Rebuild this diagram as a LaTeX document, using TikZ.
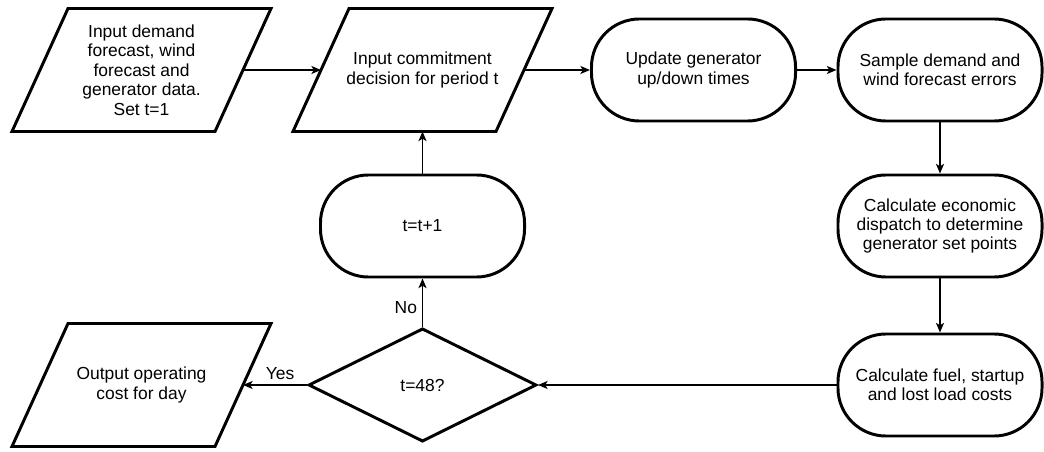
\documentclass[tikz,border=0pt]{standalone}
\usepackage{fontspec}
\setmainfont{Liberation Sans}
\usepackage{tikz}
\usetikzlibrary{
  shapes.geometric, arrows.meta, positioning
}
\tikzset{
  flowio/.style={
    rectangle, align=center, outer sep=1.05pt,
    font=\fontsize{12.4}{13.8}\selectfont,
    minimum width=5cm, minimum height=3cm,
    append after command={\pgfextra{
      \draw[line width=2.1pt]
        ([xshift=7mm]\tikzlastnode.north west) --
        ([xshift=7mm]\tikzlastnode.north east) --
        ([xshift=-7mm]\tikzlastnode.south east) --
        ([xshift=-7mm]\tikzlastnode.south west) -- cycle;
    }}
  },
  flowstep/.style={
    draw, rectangle, rounded corners=1.2cm, line width=2.1pt, align=center,
    font=\fontsize{12.4}{13.8}\selectfont, fill=white,
    minimum width=5.1cm, minimum height=2.55cm
  },
  flowdecision/.style={
    draw, diamond, aspect=2, line width=2.1pt, align=center, inner sep=0pt,
    font=\fontsize{12.4}{13.8}\selectfont, fill=white,
    minimum width=5.7cm, minimum height=2.83cm
  },
  flowarrow/.style={
    -{Stealth[length=2.4mm, width=2mm, inset=0.6mm]}, line width=1.2pt
  },
  flowlabel/.style={
    font=\fontsize{12.4}{13.8}\selectfont
  },
}

\begin{document}
\begin{tikzpicture}[x=0.025cm, y=-0.025cm]
  \useasboundingbox (0, 0) rectangle (1044, 452);

  % ---- Top row ----
  \node[flowio] (input) at (141.5, 70)
    {Input demand\\forecast, wind\\forecast and\\generator data.\\Set t=1};
  \node[flowio] (commit) at (422.5, 70)
    {Input commitment\\decision for period t};
  \node[flowstep] (update) at (693.5, 70)
    {Update generator\\up/down times};
  \node[flowstep] (sample) at (940, 70)
    {Sample demand and\\wind forecast errors};

  % ---- Right column ----
  \node[flowstep] (dispatch) at (940, 226)
    {Calculate economic\\dispatch to determine\\generator set points};
  \node[flowstep] (costs) at (940, 385)
    {Calculate fuel, startup\\and lost load costs};

  % ---- Loop back ----
  \node[flowdecision] (check) at (422.5, 385) {t=48?};
  \node[flowstep] (incr) at (422.5, 226) {t=t+1};

  % Output
  \node[flowio] (output) at (141.5, 385)
    {Output operating\\cost for day};

  % Connectors
  \draw[flowarrow] (input.east) -- (commit.west);
  \draw[flowarrow] (commit.east) -- (update.west);
  \draw[flowarrow] (update.east) -- (sample.west);
  \draw[flowarrow] (sample.south) -- (dispatch.north);
  \draw[flowarrow] (dispatch.south) -- (costs.north);
  \draw[flowarrow] (costs.west) -- (check.east);
  \draw[flowarrow] (check.west) --
    node[flowlabel, above, pos=0.42] {Yes} (output.east);
  \draw[flowarrow] (check.north) --
    node[flowlabel, left, pos=0.4] {No} (incr.south);
  \draw[flowarrow] (incr.north) -- (commit.south);
\end{tikzpicture}
\end{document}
